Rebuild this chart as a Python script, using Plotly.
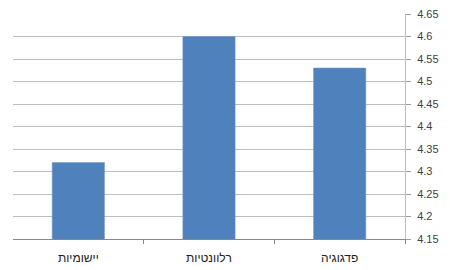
import plotly.graph_objects as go

categories = ["פדגוגיה", "רלוונטיות", "יישומיות"]
values = [4.53, 4.6, 4.32]
y_ticks = [4.15, 4.2, 4.25, 4.3, 4.35, 4.4, 4.45, 4.5, 4.55, 4.6, 4.65]

fig = go.Figure(go.Bar(
    x=categories, y=values, width=0.4,
    marker=dict(color="#4F81BD", line=dict(color="#6D96C9", width=0.5)),
))

fig.update_layout(
    width=450, height=270,
    margin=dict(l=13, r=45, t=14, b=31),
    paper_bgcolor="white", plot_bgcolor="white",
    font=dict(family="Liberation Sans, DejaVu Sans, sans-serif", size=11, color="#404040"),
    showlegend=False,
)
fig.update_xaxes(
    autorange="reversed", showline=True, linecolor="#898989", linewidth=1,
    ticks="outside", tickson="boundaries", ticklen=4, tickcolor="#898989",
    showgrid=False, tickangle=0, automargin=False, ticklabelstandoff=8,
    tickfont=dict(size=12, color="#202020"),
)
fig.update_yaxes(
    side="right", range=[4.15, 4.65], tickvals=y_ticks,
    ticktext=[f"{v:g}" for v in y_ticks],
    showline=True, linecolor="#BFBFBF", linewidth=1,
    ticks="outside", ticklen=5, tickcolor="#A0A0A0", ticklabelstandoff=4,
    automargin=False,
    showgrid=True, gridcolor="#BEBEBE", gridwidth=1, zeroline=False,
)
fig.write_html("out.html")
